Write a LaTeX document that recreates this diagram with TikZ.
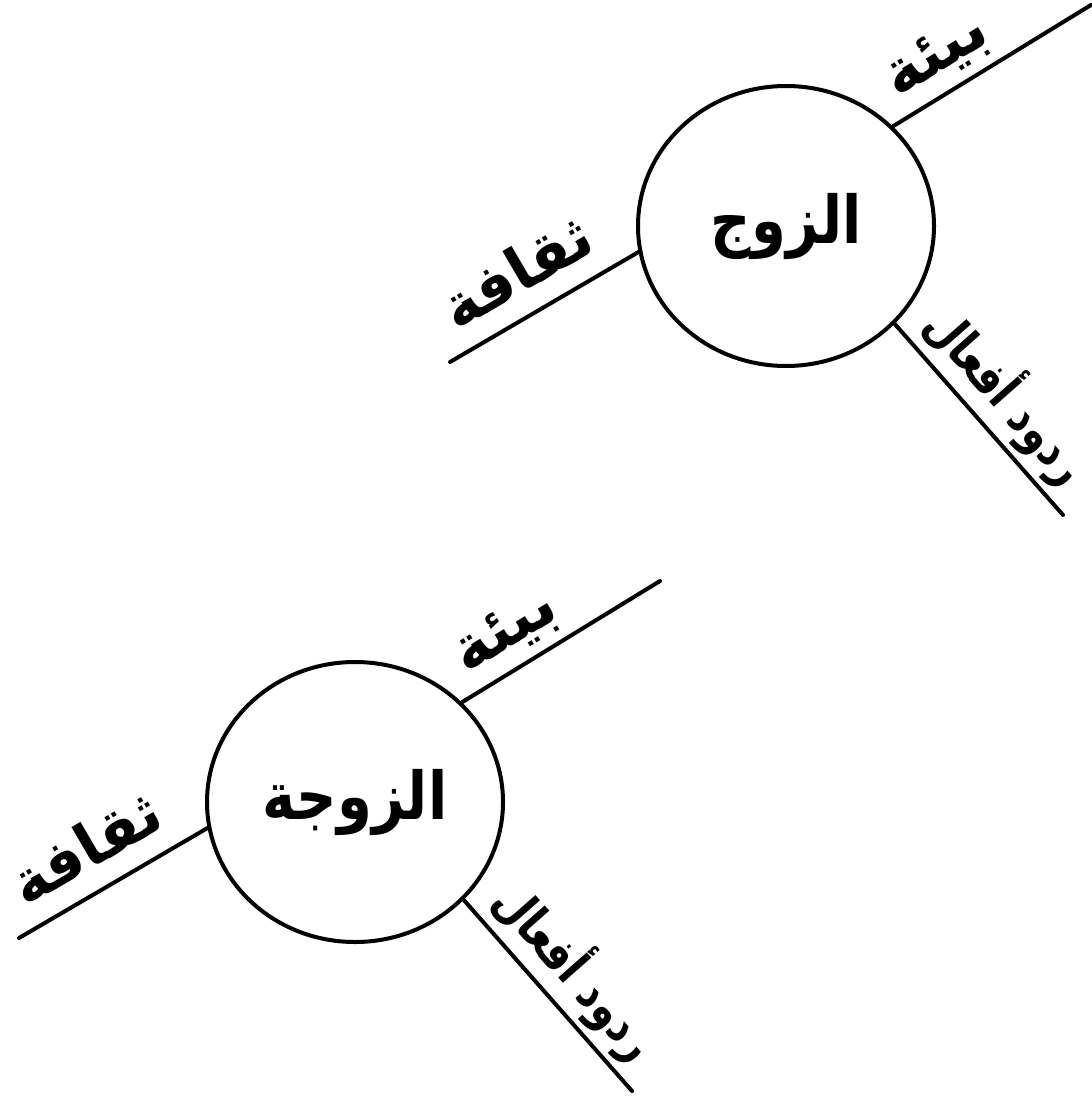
\documentclass[tikz,border=0pt]{standalone}
\usepackage{fontspec}
\usetikzlibrary{shapes.geometric}
\TeXXeTstate=1
\newfontfamily\arabicfont[Script=Arabic]{DejaVu Sans}
\tikzset{
  person/.style={ellipse, draw=black, line width=4pt, minimum width=296pt, minimum height=280pt, inner sep=0pt, font=\arabicfont\bfseries\fontsize{66}{72}\selectfont},
  branch/.style={draw=black, line width=4pt, line cap=round},
  lbl/.style={inner sep=0pt, sloped, font=\arabicfont\bfseries\fontsize{58}{64}\selectfont},
  envlbl/.style={lbl, pos=0.32, above=9pt, font=\arabicfont\bfseries\fontsize{62}{68}\selectfont},
  cultlbl/.style={lbl, pos=0.47, above=21pt, font=\arabicfont\bfseries\fontsize{60}{66}\selectfont},
  reactlbl/.style={lbl, pos=0.5, above=5pt, font=\arabicfont\bfseries\fontsize{50}{56}\selectfont}
}
\newcommand{\ar}[2][1]{\scalebox{#1}[1]{\beginR #2\endR}}
\begin{document}
\begin{tikzpicture}[x=1pt,y=-1pt]
\fill[white] (0,0) rectangle (1091,1099);
\useasboundingbox (0,0) rectangle (1091,1099);
% top: husband
\node[person] (c1) at (786,226) {\ar[0.85]{الزوج}};
\coordinate (e1a) at (1091,5);
\coordinate (e1b) at (450,362);
\coordinate (e1c) at (1063,515);
\draw[branch] (c1.43) -- (e1a) node[envlbl] (b1) {\ar{بيئة}};
\draw[branch] (e1b) -- (c1.190) node[cultlbl] (t1) {\ar{ثقافة}};
\draw[branch] (c1.-42) -- (e1c) node[reactlbl] (r1) {\ar[0.8]{ردود أفعال}};
% bottom: wife
\node[person] (c2) at (355,802) {\ar[0.85]{الزوجة}};
\coordinate (e2a) at (660,581);
\coordinate (e2b) at (19,938);
\coordinate (e2c) at (632,1091);
\draw[branch] (c2.43) -- (e2a) node[envlbl] (b2) {\ar{بيئة}};
\draw[branch] (e2b) -- (c2.190) node[cultlbl] (t2) {\ar{ثقافة}};
\draw[branch] (c2.-42) -- (e2c) node[reactlbl] (r2) {\ar[0.8]{ردود أفعال}};
\end{tikzpicture}
\end{document}
